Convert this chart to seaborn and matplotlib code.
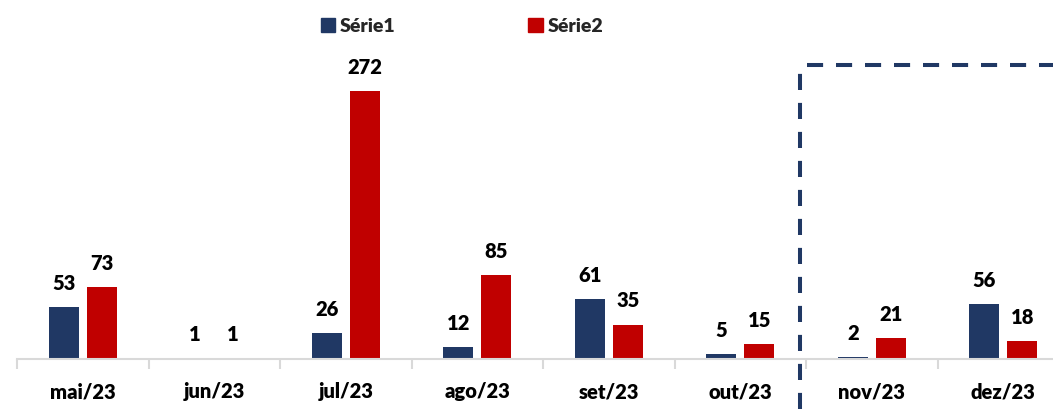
import matplotlib
matplotlib.use("Agg")
import matplotlib.pyplot as plt
from matplotlib.lines import Line2D
import seaborn as sns
import pandas as pd

categories = ["mai/23", "jun/23", "jul/23", "ago/23", "set/23", "out/23", "nov/23", "dez/23"]
serie1 = [53, 1, 26, 12, 61, 5, 2, 56]
serie2 = [73, 1, 272, 85, 35, 15, 21, 18]
series_names = ["Série1", "Série2"]
colors = ["#203864", "#C00000"]

df = pd.DataFrame({
    "mes": categories * 2,
    "valor": serie1 + serie2,
    "serie": [series_names[0]] * len(categories) + [series_names[1]] * len(categories),
})

sns.set_theme(style="white")
plt.rcParams["font.family"] = ["Lato", "DejaVu Sans"]

W, H = 1053, 410
fig = plt.figure(figsize=(W / 100, H / 100), dpi=100)
ax = fig.add_axes([17 / W, 50 / H, 1052 / W, 322 / H])

sns.barplot(data=df, x="mes", y="valor", hue="serie", order=categories,
            hue_order=series_names, palette=colors, saturation=1, width=0.578, gap=0.21,
            linewidth=0, ax=ax, legend=False)

ax.set_xlim(-0.5, 7.5)
ax.set_ylim(0, 327)
ax.set_xlabel("")
ax.set_ylabel("")
ax.set_yticks([])
for s in ["top", "right", "left"]:
    ax.spines[s].set_visible(False)
ax.spines["bottom"].set_color("#D9D9D9")
ax.spines["bottom"].set_linewidth(1.5)
ax.set_xticks(range(len(categories)))
ax.set_xticklabels(categories, fontsize=14.5, fontweight="heavy", color="black")
ax.tick_params(axis="x", which="major", length=0, pad=16)
ax.set_xticks([i - 0.5 for i in range(len(categories) + 1)], minor=True)
ax.tick_params(axis="x", which="minor", length=7, width=1.5, color="#D9D9D9", bottom=True)

for cont in ax.containers:
    for bar in cont:
        h = bar.get_height()
        ax.annotate(f"{h:.0f}", (bar.get_x() + bar.get_width() / 2, h),
                    xytext=(0, 11), textcoords="offset points",
                    ha="center", va="bottom", fontsize=14.5, fontweight="heavy",
                    color="black")

handles = [plt.Rectangle((0, 0), 1, 1, color=c) for c in colors]
fig.legend(handles, series_names, loc="center", bbox_to_anchor=(462 / W, 1 - 27 / H),
           ncol=2, frameon=False, prop={"size": 14, "weight": "heavy"},
           handlelength=0.75, handleheight=0.75, handletextpad=0.25,
           columnspacing=6.8)

navy = "#203864"
fig.add_artist(Line2D([800 / W, 800 / W], [0, 1 - 70 / H], transform=fig.transFigure,
                      color=navy, lw=2.9, linestyle=(0, (4, 3.2))))
fig.add_artist(Line2D([807 / W, 1.0], [1 - 66 / H, 1 - 66 / H], transform=fig.transFigure,
                      color=navy, lw=2.9, linestyle=(0, (4, 3.2))))

fig.savefig("out.png", dpi=100)
